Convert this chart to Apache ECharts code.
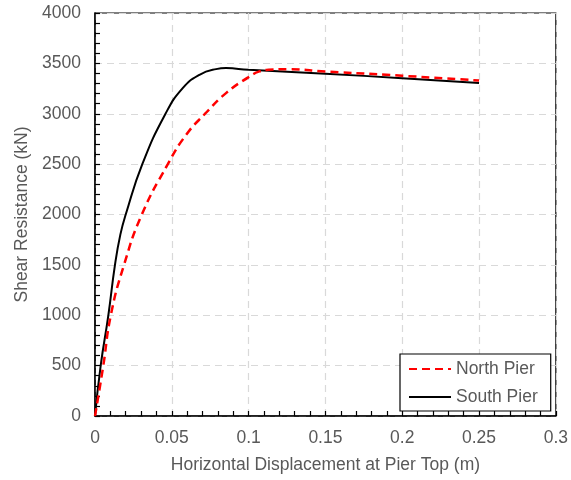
<!DOCTYPE html>
<html>
<head>
<meta charset="utf-8">
<script src="https://cdn.jsdelivr.net/npm/echarts@6/dist/echarts.min.js"></script>
<style>
  html, body { margin: 0; padding: 0; background: #fff; }
  #chart { width: 571px; height: 480px; }
</style>
</head>
<body>
<div id="chart"></div>
<script>
// Pushover curves: shear resistance vs. horizontal displacement at pier top
const northDisp  = [0, 0.0054, 0.0103, 0.0189, 0.0305, 0.0474, 0.0593, 0.0723, 0.0853, 0.1, 0.107, 0.113, 0.125, 0.15, 0.2, 0.25];
const northShear = [0, 500, 1000, 1500, 2000, 2500, 2790, 3010, 3205, 3364, 3420, 3436, 3442, 3420, 3377, 3330];

const southDisp  = [0, 0.0037, 0.0087, 0.013, 0.0165, 0.0200, 0.0308, 0.0459, 0.0571, 0.068, 0.0788, 0.0853, 0.1, 0.15, 0.2, 0.25];
const southShear = [0, 500, 1000, 1500, 1800, 2000, 2500, 3000, 3255, 3387, 3443, 3453, 3436, 3398, 3352, 3304];

const seriesNames = ['North Pier', 'South Pier'];

const pairs = (xs, ys) => xs.map((x, i) => [x, ys[i]]);

const textColor = '#595959';
const fontFamily = 'Liberation Sans, Arial, sans-serif';
const fontSize = 17.5;

const chart = echarts.init(document.getElementById('chart'));
chart.setOption({
  animation: false,
  backgroundColor: '#fff',
  textStyle: { fontFamily: fontFamily },
  grid: {
    left: 95, right: 14, top: 13, bottom: 64,
    show: true, borderColor: '#000', borderWidth: 1.2, backgroundColor: 'transparent'
  },
  xAxis: {
    type: 'value', min: 0, max: 0.3, interval: 0.05,
    name: 'Horizontal Displacement at Pier Top (m)',
    nameLocation: 'middle', nameGap: 40,
    nameTextStyle: { color: textColor, fontSize: fontSize, fontFamily: fontFamily },
    axisLine: { show: true, lineStyle: { color: '#000', width: 1.5 } },
    axisTick: { show: true, inside: true, length: 5, lineStyle: { color: '#000', width: 1.2 } },
    minorTick: { show: true, splitNumber: 5, length: 5, lineStyle: { color: '#000', width: 1.2 } },
    axisLabel: { color: textColor, fontSize: fontSize, margin: 13, fontFamily: fontFamily,
      formatter: v => String(Math.round(v * 100) / 100) },
    splitLine: { show: true, lineStyle: { color: '#d9d9d9', type: [7, 5], width: 1.2 } }
  },
  yAxis: {
    type: 'value', min: 0, max: 4000, interval: 500,
    name: 'Shear Resistance (kN)',
    nameLocation: 'middle', nameGap: 64,
    nameTextStyle: { color: textColor, fontSize: fontSize, fontFamily: fontFamily },
    axisLine: { show: true, lineStyle: { color: '#000', width: 1.5 } },
    axisTick: { show: true, inside: true, length: 5, lineStyle: { color: '#000', width: 1.2 } },
    minorTick: { show: true, splitNumber: 5, length: 5, lineStyle: { color: '#000', width: 1.2 } },
    axisLabel: { color: textColor, fontSize: fontSize, margin: 14, fontFamily: fontFamily,
      formatter: v => String(v) },
    splitLine: { show: true, lineStyle: { color: '#d9d9d9', type: [7, 5], width: 1.2 } }
  },
  legend: {
    orient: 'vertical',
    left: 400, top: 354,
    padding: [6, 13, 5, 8],
    itemWidth: 42, itemHeight: 12, itemGap: 10,
    backgroundColor: '#fff',
    borderColor: '#000', borderWidth: 1.2,
    itemStyle: { opacity: 0 },
    textStyle: { color: textColor, fontSize: fontSize, fontFamily: fontFamily },
    data: seriesNames
  },
  series: [
    {
      name: seriesNames[0], type: 'line', showSymbol: false, symbol: 'none',
      smooth: 0.5, z: 3,
      lineStyle: { color: '#ff0000', width: 2.5, type: [8, 5] },
      itemStyle: { color: '#ff0000' },
      data: pairs(northDisp, northShear)
    },
    {
      name: seriesNames[1], type: 'line', showSymbol: false, symbol: 'none',
      smooth: 0.5, z: 2,
      lineStyle: { color: '#000', width: 2 },
      itemStyle: { color: '#000' },
      data: pairs(southDisp, southShear)
    }
  ]
});
</script>
</body>
</html>
